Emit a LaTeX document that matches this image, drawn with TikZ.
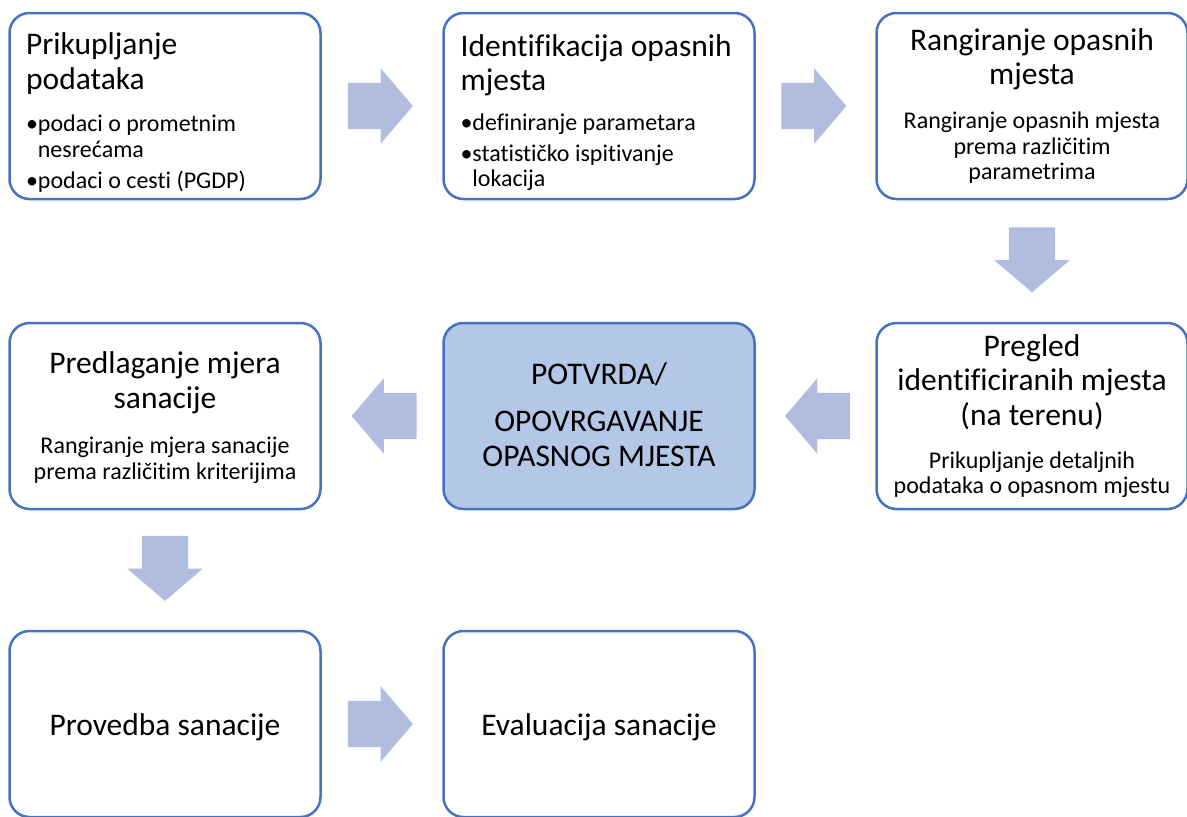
\documentclass[tikz,border=0pt]{standalone}
\usepackage{fontspec}
\setmainfont{Carlito}[Ligatures=NoCommon]
\usetikzlibrary{shapes.arrows,calc}

\definecolor{boxline}{RGB}{68,114,196}
\definecolor{arrowfill}{RGB}{176,189,223}
\definecolor{boxfill}{RGB}{180,199,231}

\newcommand{\blt}{\makebox[11.7pt][l]{•}}

\tikzset{
  stage/.style={draw=boxline, line width=2.5pt, rounded corners=20pt, fill=white,
    minimum width=311pt, minimum height=186pt, inner sep=0pt},
  head/.style={font=\fontsize{31.5}{34.5}\selectfont, inner sep=0pt},
  body/.style={font=\fontsize{24}{25.5}\selectfont, inner sep=0pt},
  flow/.style={single arrow, fill=arrowfill, draw=none, inner sep=0pt,
    text height=23pt, text depth=23pt, minimum height=65pt, minimum width=75pt,
    single arrow head extend=14.5pt, single arrow tip angle=99},
}

\begin{document}
\begin{tikzpicture}[x=1pt,y=-1pt]
\useasboundingbox (0,0) rectangle (1187,817);

% boxes
\node[stage] (b1) at (165,106) {};
\node[stage] (b2) at (599,106) {};
\node[stage] (b3) at (1032,106) {};
\node[stage] (b4) at (1032,416) {};
\node[stage, fill=boxfill] (b5) at (599,416) {};
\node[stage] (b6) at (165,416) {};
\node[stage] (b7) at (165,724) {};
\node[stage] (b8) at (599,724) {};

% texts
\node[head, anchor=north west, align=left] (t1) at (26,32.6) {Prikupljanje\\podataka};
\node[body, anchor=north west, align=left] (s1) at (26,114.7)
  {\blt podaci o prometnim\\\hspace*{11.7pt}nesrećama\\[6pt]\blt podaci o cesti (PGDP)};

\node[head, anchor=north west, align=left] (t2) at (460.5,34) {Identifikacija opasnih\\mjesta};
\node[body, anchor=north west, align=left] (s2) at (460.5,113.5)
  {\blt definiranje parametara\\[5.5pt]\blt statističko ispitivanje\\\hspace*{11.7pt}lokacija};

\node[head, anchor=north, align=center] (t3) at (1032,28.3) {Rangiranje opasnih\\mjesta};
\node[body, anchor=north, align=center] (s3) at (1032,112)
  {Rangiranje opasnih mjesta\\prema različitim\\parametrima};

\node[head, anchor=north, align=center] (t4) at (1032,334.3) {Pregled\\identificiranih mjesta\\(na terenu)};
\node[body, anchor=north, align=center] (s4) at (1032,451.3)
  {Prikupljanje detaljnih\\podataka o opasnom mjestu};

\node[head, anchor=north, align=center] (t5) at (599,362) {POTVRDA/\\[13.4pt]OPOVRGAVANJE\\OPASNOG MJESTA};

\node[head, anchor=north, align=center] (t6) at (165,351.9) {Predlaganje mjera\\sanacije};
\node[body, anchor=north, align=center] (s6) at (165,437)
  {Rangiranje mjera sanacije\\prema različitim kriterijima};

\node[head, anchor=base] (t7) at (165,735) {Provedba sanacije};
\node[head, anchor=base] (t8) at (599,735) {Evaluacija sanacije};

% arrows
\node[flow] (f12) at ($(b1.east)!0.5!(b2.west)+(-11.5,0)$) {};
\node[flow] (f23) at ($(b2.east)!0.5!(b3.west)+(-11.5,0)$) {};
\node[flow, rotate=-90] (f34) at ($(b3.south)!0.5!(b4.north)+(0,-11)$) {};
\node[flow, rotate=180] (f45) at ($(b4.west)!0.5!(b5.east)+(12,0)$) {};
\node[flow, rotate=180] (f56) at ($(b5.west)!0.5!(b6.east)+(12,0)$) {};
\node[flow, rotate=-90] (f67) at ($(b6.south)!0.5!(b7.north)+(0,-11.5)$) {};
\node[flow] (f78) at ($(b7.east)!0.5!(b8.west)+(-11.5,0)$) {};

\end{tikzpicture}
\end{document}
